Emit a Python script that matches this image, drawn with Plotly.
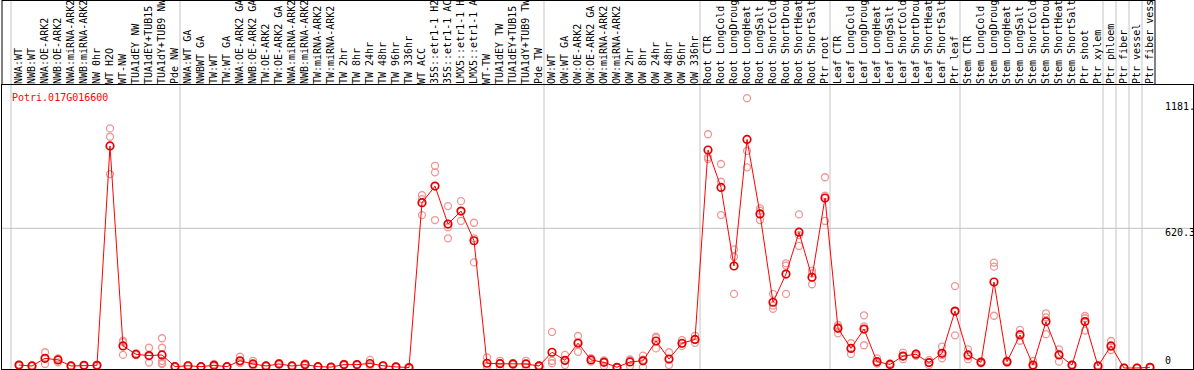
import plotly.graph_objects as go

labels = [
    "NWA:WT", "NWB:WT", "NWA:OE-ARK2", "NWB:OE-ARK2", "NWA:miRNA-ARK2", "NWB:miRNA-ARK2",
    "NW 0hr", "WT H2O", "WT-NW", "TUA1dEY NW", "TUA1dEY+TUB15 NW", "TUA1dY+TUB9 NW", "Pde NW",
    "NWA:WT GA", "NWBWT GA", "TW:WT", "TW:WT GA", "NWA:OE-ARK2 GA", "NWB:OE-ARK2 GA",
    "TW:OE-ARK2", "TW:OE-ARK2 GA", "NWA:miRNA-ARK2 GA", "NWB:miRNA-ARK2 GA", "TW:miRNA-ARK2",
    "TW:miRNA-ARK2 GA", "TW 2hr", "TW 8hr", "TW 24hr", "TW 48hr", "TW 96hr", "TW 336hr", "WT ACC",
    "35S::etr1-1 H2O", "35S::etr1-1 ACC", "LMX5::etr1-1 H2O", "LMX5::etr1-1 ACC", "WT-TW",
    "TUA1dEY TW", "TUA1dEY+TUB15 TW", "TUA1dY+TUB9 TW", "Pde TW",
    "OW:WT", "OW:WT GA", "OW:OE-ARK2", "OW:OE-ARK2 GA", "OW:miRNA-ARK2", "OW:miRNA-ARK2 GA",
    "OW 2hr", "OW 8hr", "OW 24hr", "OW 48hr", "OW 96hr", "OW 336hr",
    "Root CTR", "Root LongCold", "Root LongDrought", "Root LongHeat", "Root LongSalt",
    "Root ShortCold", "Root ShortDrought", "Root ShortHeat", "Root ShortSalt", "Ptr root",
    "Leaf CTR", "Leaf LongCold", "Leaf LongDrought", "Leaf LongHeat", "Leaf LongSalt",
    "Leaf ShortCold", "Leaf ShortDrought", "Leaf ShortHeat", "Leaf ShortSalt", "Ptr leaf",
    "Stem CTR", "Stem LongCold", "Stem LongDrought", "Stem LongHeat", "Stem LongSalt",
    "Stem ShortCold", "Stem ShortDrought", "Stem ShortHeat", "Stem ShortSalt", "Ptr shoot",
    "Ptr xylem", "Ptr phloem", "Ptr fiber", "Ptr vessel", "Ptr fiber vessel",
]

means = [
    13, 9, 43, 36, 9, 12, 12, 986, 98, 61, 55, 58, 6,
    10, 6, 12, 6, 32, 18, 9, 18, 9, 15, 6, 4, 15, 15, 20, 10, 5, 2,
    734, 808, 639, 697, 565, 21, 19, 18, 18, 9,
    70, 34, 110, 36, 25, 3, 27, 32, 120, 40, 110, 127,
    968, 802, 453, 1015, 684, 292, 417, 603, 403, 755,
    176, 87, 173, 28, 16, 53, 61, 24, 65, 253,
    58, 25, 382, 28, 147, 13, 206, 58, 13, 206, 9,
    98, 0, 0, 3,
]

replicates = [
    [15, 12, 10], [10, 8, 9], [70, 43, 18], [40, 43, 25], [8, 10, 9], [10, 13, 12],
    [10, 14, 12], [1064, 1027, 861], [121, 115, 58], [65, 60, 57], [90, 52, 24],
    [132, 90, 32, 22, 17], [8, 5, 4],
    [12, 9, 8], [7, 5, 6], [18, 10, 8], [6, 5, 7], [50, 24, 22], [32, 12, 10],
    [10, 8, 9], [22, 18, 14], [10, 8, 9], [20, 13, 12], [7, 5, 6], [5, 3, 4],
    [18, 14, 13], [17, 15, 13], [36, 14, 10], [12, 9, 9], [6, 4, 5], [3, 1, 2],
    [768, 750, 679], [898, 869, 657], [719, 625, 576], [741, 697, 653], [645, 576, 469],
    [47, 10, 6], [32, 22, 2], [22, 18, 14], [32, 18, 4], [12, 8, 6],
    [160, 32, 21], [58, 32, 13], [142, 116, 72], [44, 36, 28], [32, 34, 9], [4, 2, 3],
    [35, 38, 8], [55, 37, 4], [139, 134, 87], [70, 37, 13], [124, 108, 98], [143, 126, 112],
    [1038, 936, 928], [906, 827, 679], [527, 494, 329], [1198, 964, 891], [709, 699, 657],
    [329, 277, 263], [465, 455, 329], [682, 590, 542], [432, 420, 372], [847, 765, 653],
    [191, 183, 154], [110, 89, 62], [234, 185, 101], [43, 22, 20], [20, 15, 13],
    [68, 52, 39], [66, 63, 54], [35, 24, 13], [95, 57, 43], [364, 250, 145],
    [83, 52, 39], [30, 24, 21], [468, 450, 232], [33, 28, 23], [169, 151, 121],
    [31, 5, 3], [243, 225, 150], [83, 63, 28], [15, 12, 12], [231, 221, 166], [12, 8, 7],
    [120, 94, 80], [1, 0, 0], [0, 0, 1], [5, 2, 2],
]

group_ends = [-1, 12, 40, 52, 62, 72, 83, 84, 85, 86]
label_area_end = 87
gene = "Potri.017G016600"
axis_labels = ["1181.", "620.3", "0"]
axis_values = [1181, 620.3, 0]
max_label_chars = 14

W, H = 1194, 370
ML, MR, MT, MB = 2, 1, 85, 1
plot_h = H - MT - MB
plot_w = W - ML - MR

rx, ry = [], []
for i, reps in enumerate(replicates):
    for v in reps:
        rx.append(i)
        ry.append(v)

fig = go.Figure()
fig.add_trace(go.Scatter(
    x=rx, y=ry, mode="markers",
    marker=dict(symbol="circle-open", size=7, color="rgb(240,150,150)",
                line=dict(width=1.3, color="rgb(240,150,150)")),
    hoverinfo="skip", showlegend=False,
))
fig.add_trace(go.Scatter(
    x=list(range(len(means))), y=means, mode="lines+markers",
    line=dict(color="#ff0000", width=1),
    marker=dict(symbol="circle-open", size=7.5, color="#e00000",
                line=dict(width=1.7, color="#e00000")),
    showlegend=False,
))

top_y = (plot_h + MT - 0.5) / plot_h
shapes = []
for g in group_ends:
    shapes.append(dict(type="line", xref="x", yref="paper", x0=g + 5 / 13, x1=g + 5 / 13,
                       y0=0, y1=1.31, line=dict(color="#c4c4c4", width=1), layer="below"))
shapes.append(dict(type="line", xref="x", yref="paper",
                   x0=label_area_end + 5 / 13, x1=label_area_end + 5 / 13,
                   y0=1, y1=1.31, line=dict(color="black", width=1)))
shapes.append(dict(type="line", xref="x", yref="y", x0=-2, x1=92, y0=620.3, y1=620.3,
                   line=dict(color="#c4c4c4", width=1), layer="below"))
shapes.append(dict(type="line", xref="paper", yref="paper", x0=0, x1=0, y0=1, y1=1.31,
                   line=dict(color="black", width=1)))
shapes.append(dict(type="line", xref="paper", yref="paper", x0=0,
                   x1=(label_area_end * 13 + 19 + 5 - ML) / plot_w,
                   y0=top_y, y1=top_y, line=dict(color="black", width=1)))

annotations = [dict(text=gene, xref="paper", yref="paper", x=(10 - ML) / plot_w,
                    y=(H - MB - 97) / plot_h, xanchor="left", yanchor="middle",
                    showarrow=False, font=dict(family="DejaVu Sans Mono", size=10, color="red"))]
for t, v in zip(axis_labels, axis_values):
    annotations.append(dict(text=t, xref="paper", yref="y", x=(1163 - ML) / plot_w,
                            y=v, xanchor="left", yanchor="top" if v > 0 else "bottom",
                            yshift=3 if v > 0 else 0,
                            showarrow=False,
                            font=dict(family="DejaVu Sans Mono", size=10, color="black")))

fig.update_layout(
    width=W, height=H,
    margin=dict(l=ML, r=MR, t=MT, b=MB, pad=0),
    plot_bgcolor="white", paper_bgcolor="white",
    shapes=shapes, annotations=annotations,
    xaxis=dict(range=[(ML - 19) / 13, (W - MR - 19) / 13], tickvals=list(range(len(labels))),
               ticktext=[s[:max_label_chars] for s in labels], side="top", tickangle=-90,
               ticks="", showgrid=False, ticklabelstandoff=-2,
               zeroline=False, showline=True, linecolor="black", linewidth=1, mirror=True,
               automargin=False,
               tickfont=dict(family="DejaVu Sans Mono", size=10, color="black")),
    yaxis=dict(range=[-4.44, 1256.7], showticklabels=False, showgrid=False, zeroline=False,
               showline=True, linecolor="black", linewidth=1, mirror=True, automargin=False),
)

fig.write_html("out.html", config={"displayModeBar": False},
               post_script="document.body.style.margin='0';document.body.style.overflow='hidden';")
